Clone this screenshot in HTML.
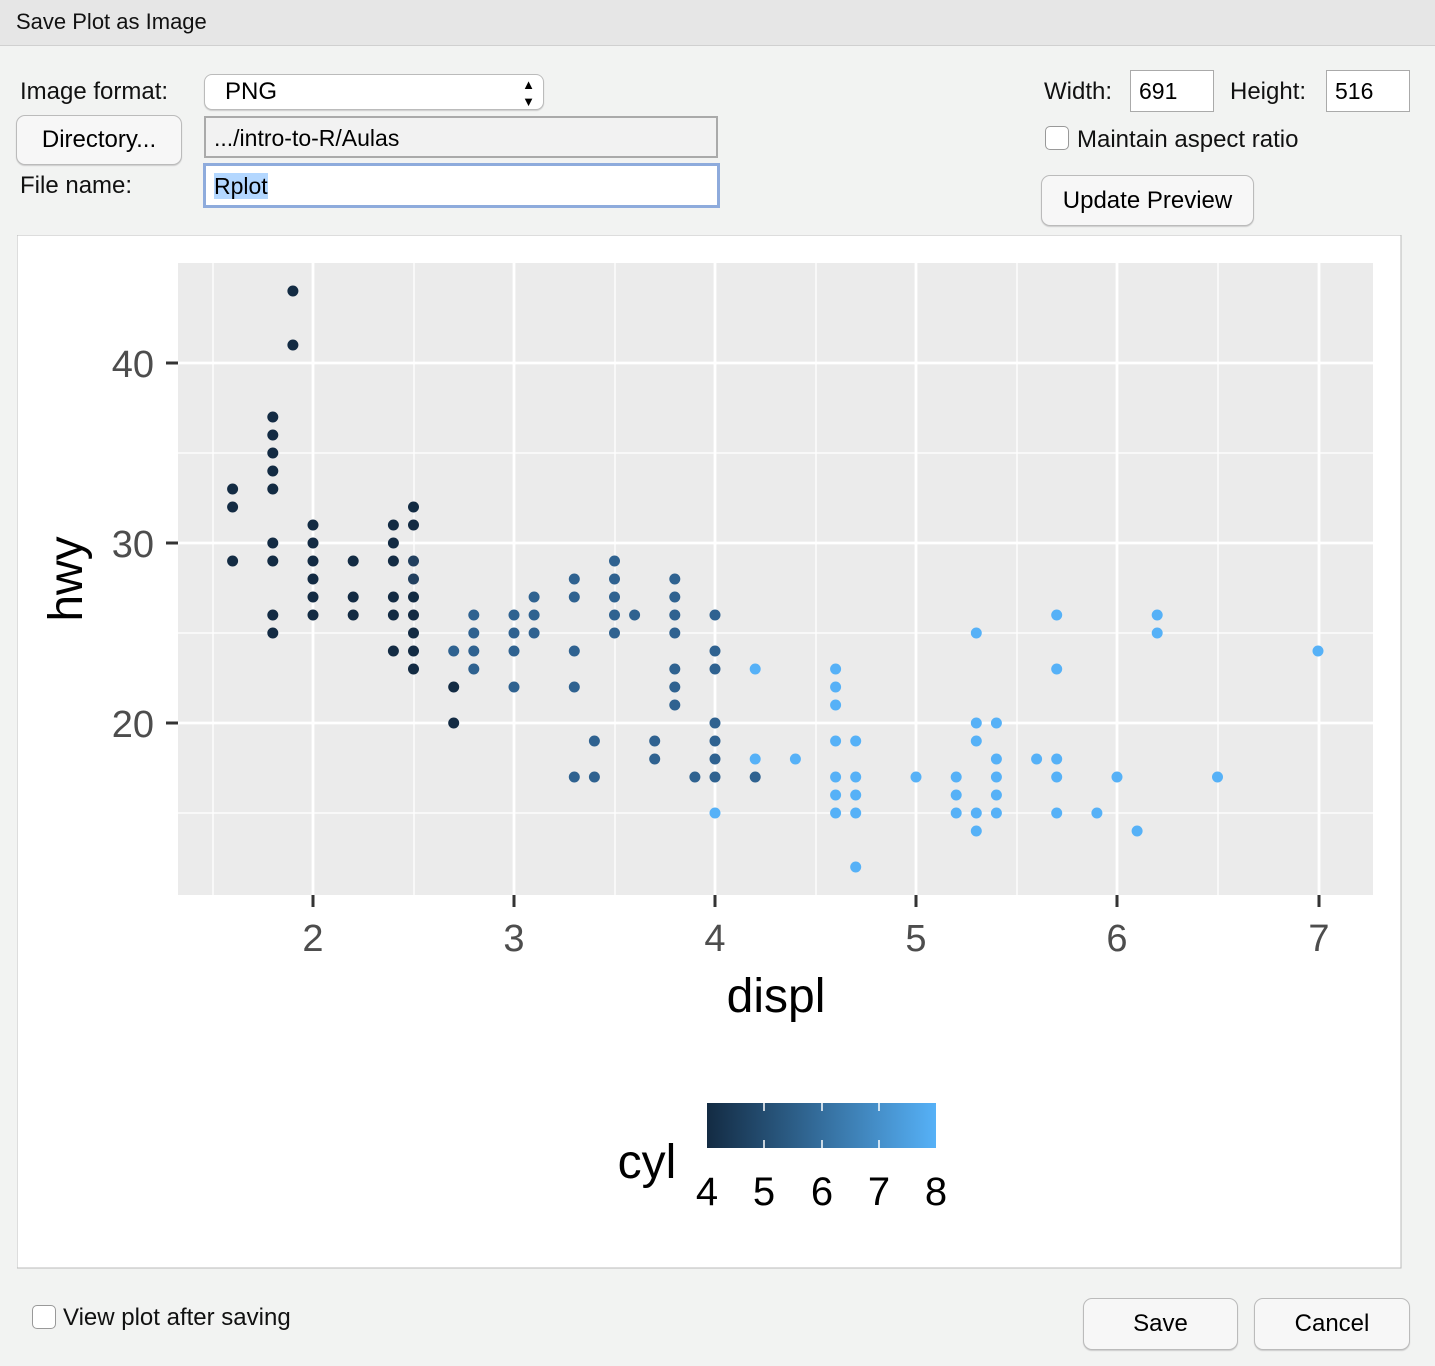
<!DOCTYPE html>
<html><head><meta charset="utf-8"><style>
body{margin:0;width:1435px;height:1366px;background:#f2f3f2;font-family:"Liberation Sans",sans-serif;position:relative;overflow:hidden}
.a{position:absolute}
.lbl{font-size:24px;color:#111}
.btn{background:#f7f7f7;border:1px solid #bbb;border-radius:9px;box-shadow:0 1px 1px #ccc;font-size:24px;text-align:center;box-sizing:border-box}
.inp{background:#fff;border:2px solid #aaa;box-sizing:border-box;font-size:23px;padding-left:8px}
</style></head><body>
<div class="a" style="left:0;top:0;width:1435px;height:45px;background:#e6e6e6;border-bottom:1px solid #d0d0d0"></div>
<div class="a" style="left:16px;top:9px;font-size:22px;color:#111">Save Plot as Image</div>
<div class="a lbl" style="left:20px;top:78px">Image format:</div>
<div class="a btn" style="left:204px;top:74px;width:340px;height:36px;text-align:left;padding-left:20px;line-height:34px;border-radius:8px;background:#fff">PNG<span style="position:absolute;right:8px;top:0;font-size:13px;line-height:17px;top:1px">▲<br>▼</span></div>
<div class="a btn" style="left:16px;top:115px;width:166px;height:50px;line-height:48px">Directory...</div>
<div class="a inp" style="left:204px;top:116px;width:514px;height:42px;line-height:40px;background:#f2f2f2">.../intro-to-R/Aulas</div>
<div class="a lbl" style="left:20px;top:172px">File name:</div>
<div class="a inp" style="left:203px;top:163px;width:517px;height:45px;line-height:41px;border:3px solid #8eabdc"><span style="background:#b3d7ff">Rplot</span></div>
<div class="a lbl" style="left:1044px;top:78px">Width:</div>
<div class="a inp" style="left:1130px;top:70px;width:84px;height:42px;line-height:40px;border-width:1px">691</div>
<div class="a lbl" style="left:1230px;top:78px">Height:</div>
<div class="a inp" style="left:1326px;top:70px;width:84px;height:42px;line-height:40px;border-width:1px">516</div>
<div class="a" style="left:1045px;top:126px;width:22px;height:22px;border:1px solid #999;border-radius:5px;background:#fff"></div>
<div class="a lbl" style="left:1077px;top:126px">Maintain aspect ratio</div>
<div class="a btn" style="left:1041px;top:175px;width:213px;height:51px;line-height:49px">Update Preview</div>
<svg class="a" style="left:17px;top:235px" width="1385" height="1034" viewBox="17 235 1385 1034">
<rect x="17" y="235" width="1384" height="1033" fill="#fff" stroke="#bbb"/>
<rect x="178" y="263" width="1195" height="632" fill="#ebebeb"/>
<g stroke="#fff" stroke-width="1.3">
<path d="M213 263V895M414 263V895M615 263V895M816 263V895M1017 263V895M1218 263V895M178 453H1373M178 633H1373M178 813H1373"/></g>
<g stroke="#fff" stroke-width="2.8">
<path d="M313 263V895M514 263V895M715 263V895M916 263V895M1117 263V895M1319 263V895M178 363H1373M178 543H1373M178 723H1373"/></g>
<g stroke="#333" stroke-width="3"><path d="M166 363H178M166 543H178M166 723H178M313 895V907M514 895V907M715 895V907M916 895V907M1117 895V907M1319 895V907"/></g>
<g font-size="38" fill="#4d4d4d" text-anchor="end"><text x="154" y="377">40</text><text x="154" y="557">30</text><text x="154" y="737">20</text></g>
<g font-size="38" fill="#4d4d4d" text-anchor="middle"><text x="313" y="951">2</text><text x="514" y="951">3</text><text x="715" y="951">4</text><text x="916" y="951">5</text><text x="1117" y="951">6</text><text x="1319" y="951">7</text></g>
<text x="776" y="1012" font-size="48" text-anchor="middle">displ</text>
<text transform="translate(82,579) rotate(-90)" font-size="48" text-anchor="middle">hwy</text>
<g transform="matrix(201,0,0,-18,-89,1083)" fill="none" stroke-linecap="round">
<path vector-effect="non-scaling-stroke" stroke-width="11" stroke="#132B43" d="M1.6 33h0M1.6 32h0M1.6 29h0M1.8 37h0M1.8 36h0M1.8 35h0M1.8 34h0M1.8 33h0M1.8 30h0M1.8 29h0M1.8 26h0M1.8 25h0M1.9 44h0M1.9 41h0M2 31h0M2 30h0M2 29h0M2 28h0M2 27h0M2 26h0M2.2 29h0M2.2 27h0M2.2 26h0M2.4 31h0M2.4 30h0M2.4 29h0M2.4 27h0M2.4 26h0M2.4 24h0M2.5 32h0M2.5 31h0M2.5 27h0M2.5 26h0M2.5 25h0M2.5 24h0M2.5 23h0M2.7 22h0M2.7 20h0"/>
<path vector-effect="non-scaling-stroke" stroke-width="11" stroke="#22405f" d="M2.5 29h0M2.5 28h0"/>
<path vector-effect="non-scaling-stroke" stroke-width="11" stroke="#2f6290" d="M2.7 24h0M2.8 26h0M2.8 25h0M2.8 24h0M2.8 23h0M3 26h0M3 25h0M3 24h0M3 22h0M3.1 27h0M3.1 26h0M3.1 25h0M3.3 28h0M3.3 27h0M3.3 24h0M3.3 22h0M3.3 17h0M3.4 19h0M3.4 17h0M3.5 29h0M3.5 28h0M3.5 27h0M3.5 26h0M3.5 25h0M3.6 26h0M3.7 19h0M3.7 18h0M3.8 28h0M3.8 27h0M3.8 26h0M3.8 25h0M3.8 23h0M3.8 22h0M3.8 21h0M3.9 17h0M4 26h0M4 24h0M4 23h0M4 20h0M4 19h0M4 18h0M4 17h0M4.2 17h0"/>
<path vector-effect="non-scaling-stroke" stroke-width="11" stroke="#56B1F7" d="M4 15h0M4.2 23h0M4.2 18h0M4.4 18h0M4.6 23h0M4.6 22h0M4.6 21h0M4.6 19h0M4.6 17h0M4.6 16h0M4.6 15h0M4.7 19h0M4.7 17h0M4.7 16h0M4.7 15h0M4.7 12h0M5 17h0M5.2 17h0M5.2 16h0M5.2 15h0M5.3 25h0M5.3 20h0M5.3 19h0M5.3 15h0M5.3 14h0M5.4 20h0M5.4 18h0M5.4 17h0M5.4 16h0M5.4 15h0M5.6 18h0M5.7 26h0M5.7 23h0M5.7 18h0M5.7 17h0M5.7 15h0M5.9 15h0M6 17h0M6.1 14h0M6.2 26h0M6.2 25h0M6.5 17h0M7 24h0"/>
</g>
<defs><linearGradient id="g"><stop offset="0" stop-color="#132B43"/><stop offset="1" stop-color="#56B1F7"/></linearGradient></defs>
<rect x="707" y="1103" width="229" height="45" fill="url(#g)"/>
<g stroke="#fff" stroke-width="1.5"><path d="M764 1103v8M822 1103v8M879 1103v8M764 1148v-8M822 1148v-8M879 1148v-8"/></g>
<g font-size="40" fill="#000" text-anchor="middle"><text x="707" y="1205">4</text><text x="764" y="1205">5</text><text x="822" y="1205">6</text><text x="879" y="1205">7</text><text x="936" y="1205">8</text></g>
<text x="647" y="1178" font-size="48" text-anchor="middle">cyl</text>
</svg>
<div class="a" style="left:32px;top:1305px;width:22px;height:22px;border:1px solid #999;border-radius:5px;background:#fff"></div>
<div class="a lbl" style="left:63px;top:1304px">View plot after saving</div>
<div class="a btn" style="left:1083px;top:1298px;width:155px;height:52px;line-height:50px">Save</div>
<div class="a btn" style="left:1254px;top:1298px;width:156px;height:52px;line-height:50px">Cancel</div>
</body></html>
